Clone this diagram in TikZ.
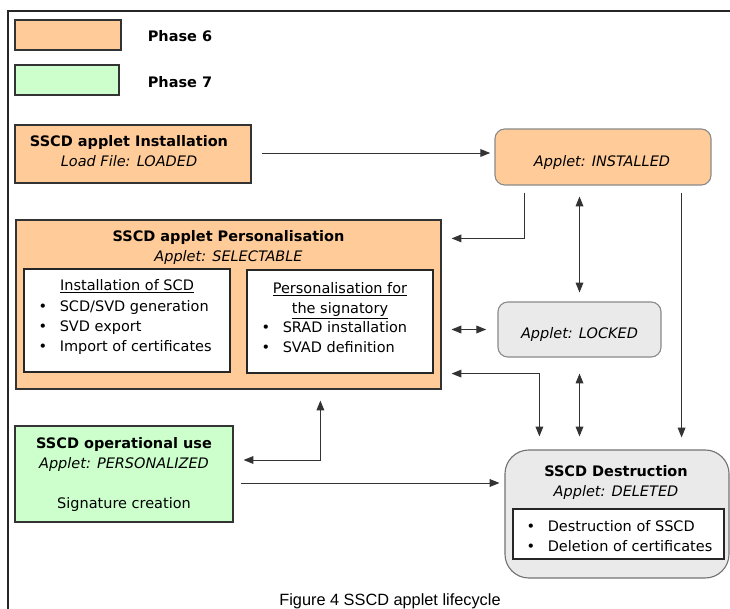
\documentclass[tikz,border=0pt]{standalone}
\usepackage{fontspec}
\setmainfont{DejaVu Sans}
\newfontfamily\captionfont{Liberation Sans}
\usetikzlibrary{arrows.meta,calc}

\definecolor{phasesix}{HTML}{FFCC99}
\definecolor{phaseseven}{HTML}{CCFFCC}
\definecolor{statefill}{HTML}{EAEAEA}
\definecolor{stateline}{HTML}{8A8A8A}

\newcommand{\bulletitem}[1]{\makebox[15pt][l]{\textbullet}#1}

\begin{document}
\begin{tikzpicture}[x=0.025cm, y=-0.025cm, inner sep=0pt,
    font=\fontsize{10.3}{14.2}\selectfont,
    phasebox/.style={draw=black!80, line width=0.8pt},
    listbox/.style={draw=black!85, line width=0.8pt, fill=white},
    statebox/.style={draw=stateline, line width=0.8pt, fill=statefill, rounded corners=7pt},
    arr/.style={-{Triangle[length=7pt,width=5.5pt]}, line width=0.7pt, draw=black!80},
    dblarr/.style={{Triangle[length=7pt,width=5.5pt]}-{Triangle[length=7pt,width=5.5pt]}, line width=0.7pt, draw=black!80}]

    \useasboundingbox (0,0) rectangle (730,609);
    \draw[line width=1.3pt, black!85] (8,609) -- (8,11) -- (730,11); % frame

    % Legend
    \node[phasebox, fill=phasesix, minimum width=2.65cm, minimum height=0.75cm] (leg6) at (68,35) {};
    \node[phasebox, fill=phaseseven, minimum width=2.6cm, minimum height=0.75cm] (leg7) at (67,80) {};
    \node[anchor=base west, font=\fontsize{10.3}{14.2}\selectfont\bfseries] (leg6txt) at ($(leg6.east)+(26,7)$) {Phase 6};
    \node[anchor=base west, font=\fontsize{10.3}{14.2}\selectfont\bfseries] (leg7txt) at ($(leg7.east)+(28,8)$) {Phase 7};

    % Installation (base of a multi-line node = its last line)
    \node[phasebox, fill=phasesix, minimum width=5.9cm, minimum height=1.45cm] (inst) at (133,154) {};
    \node[anchor=base, align=center] (insttxt) at ($(inst.north)+(-4,42)$) {\textbf{SSCD applet Installation}\\\textit{Load File: LOADED}};

    \node[statebox, fill=phasesix, minimum width=5.4cm, minimum height=1.4cm] (installed) at (603,157) {};
    \node[anchor=base] (installedtxt) at ($(installed.center)+(-1,10)$) {\textit{Applet: INSTALLED}};

    % Personalisation
    \node[phasebox, fill=phasesix, minimum width=10.625cm, minimum height=4.225cm] (pers) at (228.5,304.5) {};
    \node[anchor=base, align=center] (perstxt) at ($(pers.north)+(0,42)$) {\textbf{SSCD applet Personalisation}\\\textit{Applet: SELECTABLE}};

    \node[listbox, minimum width=5.15cm, minimum height=2.575cm] (scd) at (127,320.5) {};
    \node[anchor=base] (scdhead) at ($(scd.north)+(0,22)$) {\underline{Installation of SCD}};
    \node[anchor=base west, align=left] (scdlist) at ($(scd.north west)+(15,83)$) {\bulletitem{SCD/SVD generation}\\\bulletitem{SVD export}\\\bulletitem{Import of certificates}};

    \node[listbox, minimum width=4.65cm, minimum height=2.575cm] (sig) at (340,321.5) {};
    \node[anchor=base, align=center] (sighead) at ($(sig.north)+(0,44)$) {\underline{Personalisation for}\\\underline{the signatory}};
    \node[anchor=base west, align=left] (siglist) at ($(sig.north west)+(15,83)$) {\bulletitem{SRAD installation}\\\bulletitem{SVAD definition}};

    \node[statebox, minimum width=4.075cm, minimum height=1.375cm] (locked) at (579.5,329.5) {};
    \node[anchor=base] (lockedtxt) at ($(locked.center)+(0,9.5)$) {\textit{Applet: LOCKED}};

    % Operational use
    \node[phasebox, fill=phaseseven, minimum width=5.45cm, minimum height=2.4cm] (oper) at (124,474) {};
    \node[anchor=base, align=center] (opertxt) at ($(oper.north)+(0,83)$) {\textbf{SSCD operational use}\\\textit{Applet: PERSONALIZED}\\[14.2pt]Signature creation};

    % Destruction
    \node[statebox, rounded corners=17pt, draw=black!55, minimum width=5.6cm, minimum height=3.2cm] (destr) at (617,514) {};
    \node[anchor=base, align=center] (destrtxt) at ($(destr.north)+(-1,47)$) {\textbf{SSCD Destruction}\\\textit{Applet: DELETED}};
    \node[listbox, minimum width=5.275cm, minimum height=1.25cm] (del) at (618.5,534) {};
    \node[anchor=base west, align=left] (dellist) at ($(del.north west)+(14,43)$) {\bulletitem{Destruction of SSCD}\\\bulletitem{Deletion of certificates}};

    % Transitions
    \draw[arr, shorten >=3pt] ($(inst.east)+(10,-1)$) coordinate (instout) -- (instout -| installed.west);
    \draw[arr] ($(installed.south west)+(30,7)$) |- ($(pers.north east)+(10,19)$);
    \draw[dblarr, shorten <=7.8pt, shorten >=6.4pt] (locked.north |- installed.south) -- (locked.north);
    \draw[arr, shorten >=8.5pt] ($(installed.south east)+(-30,7)$) coordinate (instdown) -- (instdown |- destr.north);
    \draw[dblarr, shorten <=7pt, shorten >=8pt] (pers.east |- locked.west) -- (locked.west);
    \draw[dblarr] ($(pers.south east)+(10,-16)$) -| ($(destr.north west)+(35,-13)$);
    \draw[dblarr] ($(locked.south)+(0,16)$) -- ($(locked.south |- destr.north)+(0,-13)$);
    \draw[dblarr] ($(pers.south west)+(305,11)$) |- ($(oper.east)+(10,-14)$);
    \draw[arr, shorten >=3.5pt] ($(oper.east)+(7,9)$) coordinate (operout) -- (operout -| destr.west);

    \node[anchor=base, font=\captionfont\fontsize{11.6}{13}\selectfont] (caption) at (390,605) {Figure 4 SSCD applet lifecycle};

\end{tikzpicture}
\end{document}
